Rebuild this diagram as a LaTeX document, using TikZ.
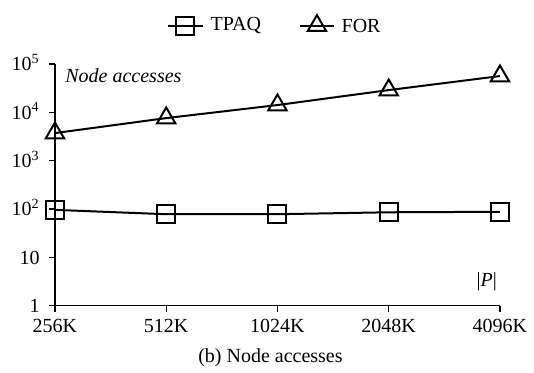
\documentclass[tikz,border=0pt]{standalone}
\usepackage{fontspec}
\setmainfont{Liberation Serif}
\usetikzlibrary{shapes.geometric}
\tikzset{>=latex,
  sqmark/.style={draw,line width=1pt,rectangle,minimum size=9pt,inner sep=0pt},
  trimark/.style={draw,line width=1pt,regular polygon,regular polygon sides=3,minimum size=10.6pt,inner sep=0pt},
  series/.style={line width=1pt},
  axisline/.style={line width=0.7pt}
}

\begin{document}
\begin{tikzpicture}[x=55.625pt,y=24.15pt]
  \useasboundingbox (-0.494,-1.377) rectangle (4.306,6.325);

  % Legends
  \draw[series] (1.016,5.793) -- ++(0.314,0) node[right] (tpaqkey) {TPAQ};
  \node[sqmark] (tpaqmark) at (1.173,5.793) {};
  \draw[series] (2.202,5.793) -- ++(0.306,0) node[right] (forkey) {FOR};
  \node[trimark] (formark) at (2.355,5.793) {};

  % Axes and ticks
  \coordinate (ytop) at (0,5);
  \coordinate (orig) at (0,0);
  \coordinate (xend) at (4,0);
  \draw[axisline] (ytop) -- (orig) -- (xend);
  \foreach \e/\lbl in {0/1,1/10,2/10\textsuperscript{2},3/10\textsuperscript{3},4/10\textsuperscript{4},5/10\textsuperscript{5}} {
    \draw[axisline] (0,\e) -- ++(-3pt,0);
    \node[anchor=base east,inner sep=0pt] (ylab\e) at (-0.135,\e-0.141) {\lbl};
  }
  \foreach \i/\lbl in {0/256K,1/512K,2/1024K,3/2048K,4/4096K} {
    \draw[axisline] (\i,0) -- ++(0,-3pt);
    \node[anchor=base,inner sep=0pt] (xlab\i) at (\i,-0.569) {\lbl};
  }
  \node[anchor=base west,inner sep=0pt] (ytitle) at (0.09,4.627) {\itshape Node accesses};
  \node[anchor=east,inner sep=0pt] (xtitle) at (3.975,0.5) {|\textit{P}|};

  % TPAQ
  \foreach \i/\v in {0/1.98,1/1.89,2/1.89,3/1.93,4/1.94}
    \node[sqmark] (t\i) at (\i,\v) {};
  \draw[series] (t0.center) \foreach \i in {1,...,4} {-- (t\i.center)};

  % FOR
  \foreach \i/\v in {0/3.57,1/3.88,2/4.15,3/4.46,4/4.75}
    \node[trimark] (f\i) at (\i,\v) {};
  \draw[series] (f0.center) \foreach \i in {1,...,4} {-- (f\i.center)};

  \node[anchor=base] (caption) at (1.937,-1.18) {(b) Node accesses};
\end{tikzpicture}
\end{document}
